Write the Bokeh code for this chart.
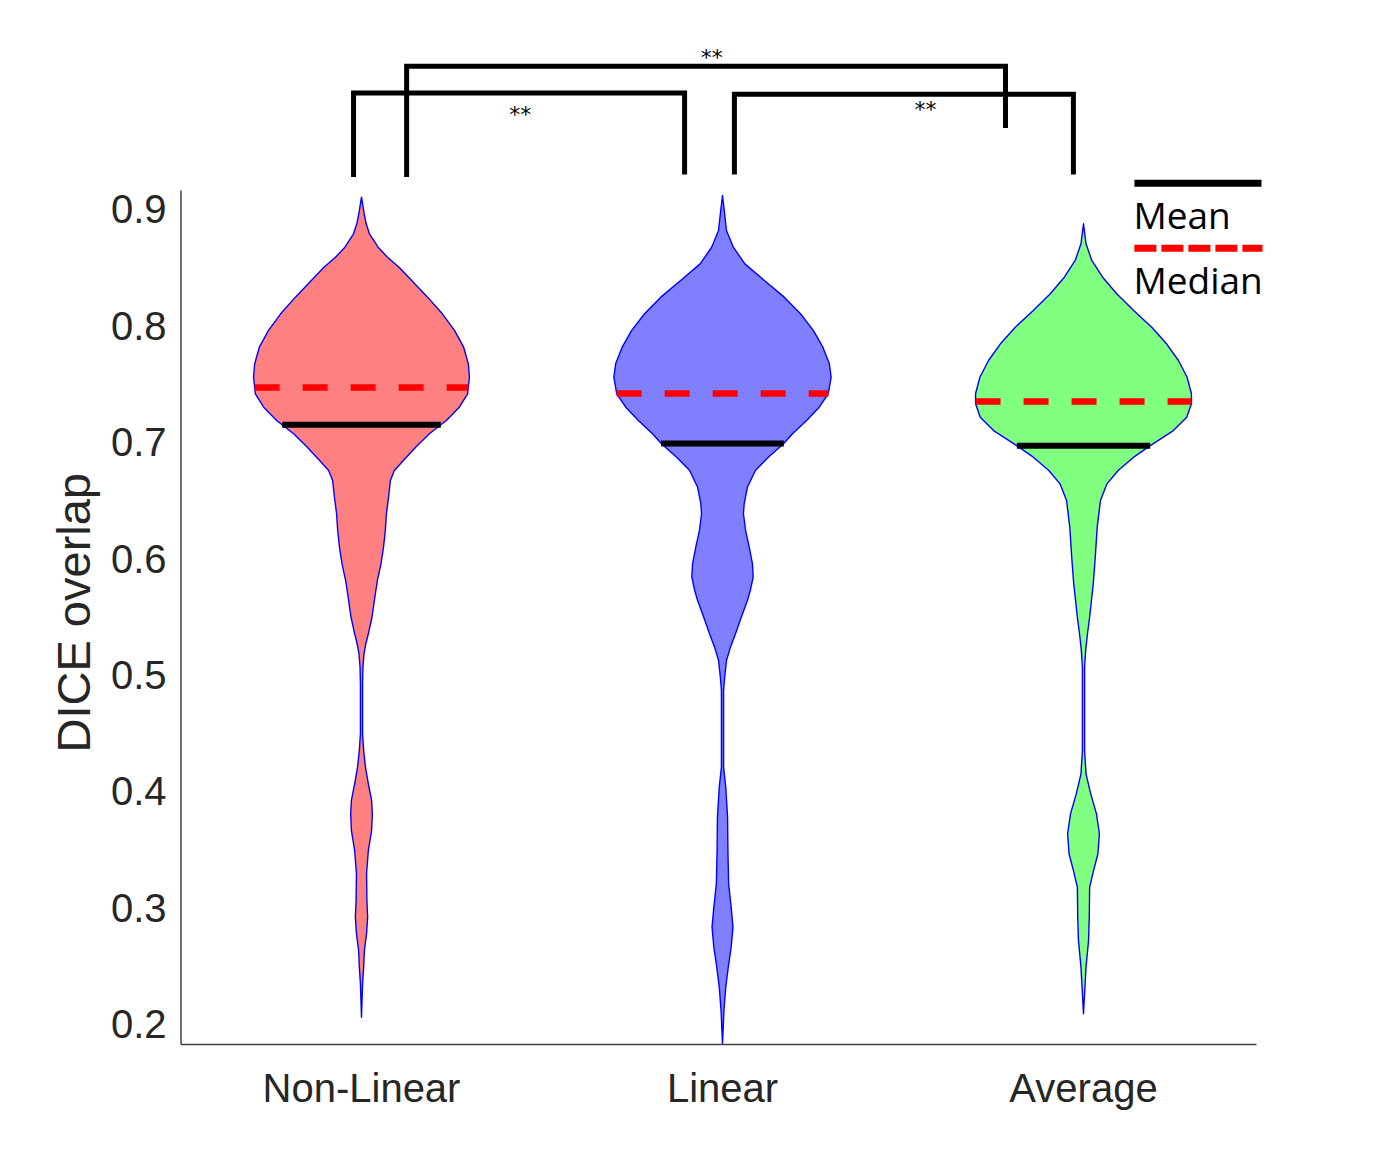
import numpy as np
from bokeh.plotting import figure
from bokeh.models import Range1d, FixedTicker, Title
from bokeh.core.properties import value
from bokeh.embed import file_html
from bokeh.resources import INLINE

# ---------------- data ----------------
categories = ["Non-Linear", "Linear", "Average"]
positions = [1, 2, 3]
fill_colors = ["#FF8080", "#8080FF", "#80FF80"]

# violin outlines: DICE value (y) and half-width of the density (x units)
nl_y = [0.9106, 0.8963, 0.8877, 0.8791, 0.8676, 0.8590, 0.8504, 0.8390, 0.8247, 0.8104,
        0.7960, 0.7817, 0.7674, 0.7559, 0.7417, 0.7302, 0.7187, 0.7073, 0.6958, 0.6844,
        0.6758, 0.6672, 0.6528, 0.6386, 0.6242, 0.6099, 0.5956, 0.5813, 0.5669, 0.5497,
        0.5355, 0.5269, 0.5183, 0.5068, 0.4925, 0.4496, 0.4352, 0.4209, 0.4066, 0.3923,
        0.3808, 0.3665, 0.3493, 0.3293, 0.3063, 0.2920, 0.2777, 0.2634, 0.2491, 0.2348,
        0.2061]
nl_w = [0.000, 0.0075, 0.013, 0.022, 0.046, 0.072, 0.104, 0.139, 0.183, 0.224,
        0.258, 0.283, 0.296, 0.299, 0.294, 0.271, 0.235, 0.188, 0.150, 0.116,
        0.091, 0.080, 0.075, 0.069, 0.066, 0.061, 0.054, 0.044, 0.037, 0.029,
        0.019, 0.012, 0.007, 0.004, 0.003, 0.003, 0.006, 0.011, 0.019, 0.028,
        0.030, 0.028, 0.019, 0.014, 0.015, 0.017, 0.014, 0.008, 0.006, 0.003,
        0.000]

lin_y = [0.9120, 0.8963, 0.8820, 0.8676, 0.8533, 0.8390, 0.8247, 0.8104, 0.7960, 0.7817,
         0.7674, 0.7559, 0.7417, 0.7302, 0.7187, 0.7073, 0.6987, 0.6872, 0.6758, 0.6614,
         0.6471, 0.6386, 0.6242, 0.6099, 0.5956, 0.5841, 0.5727, 0.5641, 0.5497, 0.5355,
         0.5240, 0.5125, 0.4982, 0.4868, 0.4209, 0.4037, 0.3780, 0.3493, 0.3207, 0.3007,
         0.2835, 0.2663, 0.2491, 0.2319, 0.2119, 0.1833]
lin_w = [0.000, 0.006, 0.011, 0.030, 0.062, 0.116, 0.171, 0.216, 0.252, 0.278,
         0.296, 0.301, 0.293, 0.268, 0.233, 0.194, 0.169, 0.127, 0.091, 0.069,
         0.060, 0.058, 0.064, 0.074, 0.083, 0.085, 0.077, 0.069, 0.052, 0.036,
         0.022, 0.011, 0.006, 0.003, 0.003, 0.009, 0.014, 0.015, 0.017, 0.024,
         0.029, 0.024, 0.016, 0.009, 0.004, 0.000]

avg_y = [0.8877, 0.8705, 0.8562, 0.8418, 0.8276, 0.8132, 0.7989, 0.7846, 0.7703, 0.7559,
         0.7417, 0.7331, 0.7216, 0.7101, 0.6973, 0.6872, 0.6758, 0.6643, 0.6500, 0.6271,
         0.5985, 0.5784, 0.5641, 0.5497, 0.5355, 0.5212, 0.5068, 0.4352, 0.4152, 0.3980,
         0.3808, 0.3637, 0.3465, 0.3322, 0.3178, 0.2920, 0.2720, 0.2491, 0.2319, 0.2090]
avg_w = [0.000, 0.007, 0.023, 0.053, 0.092, 0.139, 0.189, 0.230, 0.263, 0.287,
         0.299, 0.299, 0.286, 0.249, 0.186, 0.139, 0.096, 0.065, 0.047, 0.038,
         0.032, 0.027, 0.022, 0.017, 0.011, 0.006, 0.003, 0.003, 0.007, 0.020,
         0.036, 0.044, 0.040, 0.028, 0.017, 0.016, 0.014, 0.007, 0.004, 0.000]

means = [0.715, 0.699, 0.697]
medians = [0.747, 0.742, 0.735]

# significance brackets: (left x, right x, level, left foot, right foot)
brackets = [
    (0.978, 1.895, 1.000, 0.928, 0.930),
    (1.125, 2.784, 1.023, 0.928, 0.970),
    (2.033, 2.972, 0.999, 0.930, 0.930),
]
stars = ["**", "**", "**"]
star_x = [1.440, 1.970, 2.562]
star_y = [0.9815, 1.0305, 0.9860]

legend_labels = ["Mean", "Median"]
y_ticks = [0.2, 0.3, 0.4, 0.5, 0.6, 0.7, 0.8, 0.9]

# ---------------- figure ----------------
p = figure(frame_width=1100, frame_height=1020,
           min_border_left=175, min_border_right=113,
           min_border_top=30, min_border_bottom=90,
           x_range=Range1d(0.48476, 3.53186), y_range=Range1d(0.17749, 1.05378),
           output_backend="svg", toolbar_location=None)
p.outline_line_color = None
p.grid.visible = False
p.background_fill_color = "white"
p.border_fill_color = "white"

violins = [(nl_y, nl_w), (lin_y, lin_w), (avg_y, avg_w)]
for pos, (vy, vw), col in zip(positions, violins, fill_colors):
    vy = np.array(vy)
    vw = np.array(vw)
    xs = np.concatenate([pos - vw, (pos + vw)[::-1]])
    ys = np.concatenate([vy, vy[::-1]])
    p.patch(xs, ys, fill_color=col, line_color="#0000FF", line_width=1.4,
            line_join="round")

for pos, (vy, vw), mn, md in zip(positions, violins, means, medians):
    yr = np.array(vy)[::-1]
    wr = np.array(vw)[::-1]
    hw_md = float(np.interp(md, yr, wr))
    hw_mn = float(np.interp(mn, yr, wr))
    p.line([pos - hw_md, pos + hw_md], [md, md], line_color="#FF0000",
           line_width=6.5, line_dash="25 23")
    p.line([pos - hw_mn, pos + hw_mn], [mn, mn], line_color="black", line_width=6)

# brackets
bx = [[b[0], b[0], b[1], b[1]] for b in brackets]
by = [[b[3], b[2], b[2], b[4]] for b in brackets]
p.multi_line(bx, by, line_color="black", line_width=5, line_join="miter")
p.text(x=star_x, y=star_y, text=stars, text_font=value("DejaVu Sans"),
       text_font_size=value("22px"), text_align="center", text_baseline="alphabetic",
       text_color="black")

# legend (drawn manually like the original)
p.line([3.1410, 3.4931], [0.9226, 0.9226], line_color="black", line_width=7)
p.line([3.1410, 3.4960], [0.8668, 0.8668], line_color="#FF0000", line_width=7,
       line_dash="22 5")
p.text(x=[3.1385, 3.1385], y=[0.8955, 0.8400], text=legend_labels,
       text_font=value("Open Sans"), text_font_size=value("37px"),
       text_align="left", text_baseline="alphabetic", text_color="black")

# axis lines (limited extent like the original)
p.line([0.5, 0.5], [0.18265, 0.9163], line_color="#404040", line_width=1.5)
p.line([0.5, 3.4792], [0.18265, 0.18265], line_color="#404040", line_width=1.5)

# axes
p.xaxis.ticker = FixedTicker(ticks=positions)
p.xaxis.major_label_overrides = {pos: c for pos, c in zip(positions, categories)}
p.yaxis.ticker = FixedTicker(ticks=y_ticks)
p.yaxis.major_label_overrides = {t: f"{t:.1f}" for t in y_ticks}
for ax in (p.xaxis, p.yaxis):
    ax.axis_line_color = None
    ax.major_tick_line_color = None
    ax.minor_tick_line_color = None
    ax.major_label_text_font = "Liberation Sans"
    ax.major_label_text_font_size = "40px"
    ax.major_label_text_color = "#262626"
p.xaxis.major_label_standoff = 9
p.yaxis.major_label_standoff = 3

p.add_layout(Title(text="DICE overlap", align="left", offset=298, standoff=16,
                   text_font="Liberation Sans", text_font_size="47px",
                   text_font_style="normal", text_color="#262626"), "left")

open("out.html", "w").write(file_html(p, INLINE))
